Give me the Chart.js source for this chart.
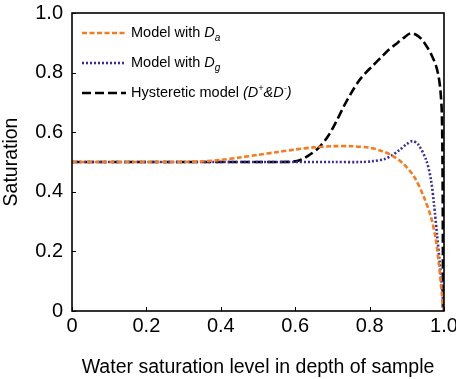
<!DOCTYPE html>
<html>
<head>
<meta charset="utf-8">
<script src="https://cdn.jsdelivr.net/npm/chart.js@4.4.1/dist/chart.umd.min.js"></script>
<style>
  html, body { margin: 0; padding: 0; background: #fff; overflow: hidden; }
  #wrap { width: 456px; height: 379px; position: relative; }
</style>
</head>
<body>
<div id="wrap"><canvas id="c" width="456" height="379"></canvas></div>
<script>
// ---- Data ----
const xTicks = [0, 0.2, 0.4, 0.6, 0.8, 1.0];
const yTicks = [0, 0.2, 0.4, 0.6, 0.8, 1.0];

const daX = [0, 0.1, 0.2, 0.3, 0.35, 0.4, 0.45, 0.5, 0.55, 0.6, 0.65, 0.7, 0.75, 0.8, 0.83, 0.86, 0.89, 0.92, 0.945, 0.965, 0.978, 0.987, 0.995, 1.0];
const daY = [0.5, 0.5, 0.5, 0.5, 0.502, 0.507, 0.515, 0.524, 0.533, 0.542, 0.549, 0.553, 0.553, 0.548, 0.538, 0.522, 0.495, 0.45, 0.385, 0.315, 0.24, 0.15, 0.05, 0.0];

const dgX = [0, 0.2, 0.4, 0.6, 0.7, 0.78, 0.81, 0.84, 0.86, 0.88, 0.9, 0.915, 0.93, 0.952, 0.965, 0.973, 0.981, 0.988, 0.994, 0.998, 1.0];
const dgY = [0.5, 0.5, 0.5, 0.5, 0.5, 0.5, 0.503, 0.51, 0.522, 0.54, 0.56, 0.57, 0.56, 0.507, 0.44, 0.36, 0.26, 0.17, 0.09, 0.03, 0.0];

const hyX = [0, 0.2, 0.4, 0.55, 0.6, 0.62, 0.64, 0.665, 0.69, 0.71, 0.73, 0.75, 0.77, 0.79, 0.81, 0.83, 0.85, 0.87, 0.89, 0.91, 0.925, 0.94, 0.955, 0.968, 0.978, 0.985, 0.99, 0.994, 0.996, 0.997, 0.997];
const hyY = [0.5, 0.5, 0.5, 0.5, 0.502, 0.51, 0.525, 0.55, 0.59, 0.635, 0.685, 0.73, 0.77, 0.8, 0.825, 0.85, 0.875, 0.895, 0.915, 0.932, 0.927, 0.912, 0.885, 0.855, 0.825, 0.79, 0.745, 0.67, 0.5, 0.2, 0.0];

const seriesNames = ['Model with ', 'Model with ', 'Hysteretic model '];

const toPts = (xs, ys) => xs.map((x, i) => ({x: x, y: ys[i]}));

const FONT = "'Liberation Sans', Arial, sans-serif";
const ORANGE = '#F47B20';
const BLUE = '#3A2E9E';
const BLACK = '#000000';

const styles = [
  {color: ORANGE, dash: [5, 2.5], width: 2.6},
  {color: BLUE, dash: [2, 2], width: 2.6},
  {color: BLACK, dash: [9, 4], width: 2.6}
];

// Frame + inward ticks plugin
const framePlugin = {
  id: 'frame',
  afterDraw(chart) {
    const {ctx, chartArea: a, scales} = chart;
    ctx.save();
    ctx.strokeStyle = '#000';
    ctx.lineWidth = 1.6;
    ctx.setLineDash([]);
    ctx.strokeRect(a.left, a.top, a.right - a.left, a.bottom - a.top);
    ctx.lineWidth = 1;
    scales.x.ticks.forEach(t => {
      const px = Math.round(scales.x.getPixelForValue(t.value)) + 0.5;
      ctx.beginPath(); ctx.moveTo(px, a.bottom); ctx.lineTo(px, a.bottom - 4); ctx.stroke();
    });
    scales.y.ticks.forEach(t => {
      const py = Math.round(scales.y.getPixelForValue(t.value)) + 0.5;
      ctx.beginPath(); ctx.moveTo(a.left, py); ctx.lineTo(a.left + 4, py); ctx.stroke();
    });
    ctx.restore();
  }
};

// Custom legend with italic subscripts
const legendPlugin = {
  id: 'richLegend',
  afterDraw(chart) {
    const {ctx} = chart;
    const rows = [33, 63, 93];
    const x0 = 82, x1 = 126, tx = 131;
    ctx.save();
    rows.forEach((y, i) => {
      const s = styles[i];
      ctx.strokeStyle = s.color;
      ctx.lineWidth = s.width;
      ctx.setLineDash(s.dash);
      ctx.beginPath(); ctx.moveTo(x0, y); ctx.lineTo(x1, y); ctx.stroke();
      ctx.setLineDash([]);
      ctx.fillStyle = '#000';
      ctx.textBaseline = 'middle';
      ctx.textAlign = 'left';
      ctx.font = '14.5px ' + FONT;
      let x = tx;
      ctx.fillText(seriesNames[i], x, y);
      x += ctx.measureText(seriesNames[i]).width;
      if (i < 2) {
        ctx.font = 'italic 14.5px ' + FONT;
        ctx.fillText('D', x, y);
        x += ctx.measureText('D').width;
        ctx.font = 'italic 10px ' + FONT;
        ctx.fillText(i === 0 ? 'a' : 'g', x, y + 5);
      } else {
        const parts = [
          ['(D', 'italic 14.5px ', 0],
          ['+', 'italic 9px ', -5],
          ['&D', 'italic 14.5px ', 0],
          ['-', 'italic 9px ', -5],
          [')', 'italic 14.5px ', 0]
        ];
        parts.forEach(p => {
          ctx.font = p[1] + FONT;
          ctx.fillText(p[0], x, y + p[2]);
          x += ctx.measureText(p[0]).width;
        });
      }
    });
    ctx.restore();
  }
};

const datasets = [
  {label: 'Model with Da', data: toPts(daX, daY)},
  {label: 'Model with Dg', data: toPts(dgX, dgY)},
  {label: 'Hysteretic model (D+&D-)', data: toPts(hyX, hyY)}
].map((d, i) => Object.assign(d, {
  showLine: true,
  borderColor: styles[i].color,
  borderWidth: styles[i].width,
  borderDash: styles[i].dash,
  pointRadius: 0,
  tension: 0.3,
  fill: false
}));

new Chart(document.getElementById('c'), {
  type: 'scatter',
  data: {datasets: datasets},
  options: {
    responsive: false,
    animation: false,
    layout: {padding: {left: 0, right: 12, top: 13, bottom: 0}},
    plugins: {legend: {display: false}, tooltip: {enabled: false}},
    scales: {
      x: {
        type: 'linear', min: 0, max: 1.0,
        afterBuildTicks: s => { s.ticks = xTicks.map(v => ({value: v})); },
        afterFit: s => { s.height = 68; s.paddingLeft = 0; s.paddingRight = 0; },
        grid: {display: false, drawTicks: false},
        border: {display: false},
        ticks: {
          color: '#000', padding: 3, maxRotation: 0,
          font: {family: FONT, size: 20},
          callback: v => v === 0 ? '0' : v.toFixed(1)
        },
        title: {display: true, text: 'Water saturation level in depth of sample', color: '#000',
                font: {family: FONT, size: 19.5}, padding: {top: 8, bottom: 0}}
      },
      y: {
        type: 'linear', min: 0, max: 1.0,
        afterBuildTicks: s => { s.ticks = yTicks.map(v => ({value: v})); },
        afterFit: s => { s.width = 72; s.paddingTop = 0; s.paddingBottom = 0; },
        grid: {display: false, drawTicks: false},
        border: {display: false},
        ticks: {
          color: '#000', padding: 9,
          font: {family: FONT, size: 20},
          callback: v => v === 0 ? '0' : v.toFixed(1)
        },
        title: {display: true, text: 'Saturation', color: '#000',
                font: {family: FONT, size: 19.5}, padding: {top: 0, bottom: 0}}
      }
    }
  },
  plugins: [framePlugin, legendPlugin]
});
</script>
</body>
</html>
